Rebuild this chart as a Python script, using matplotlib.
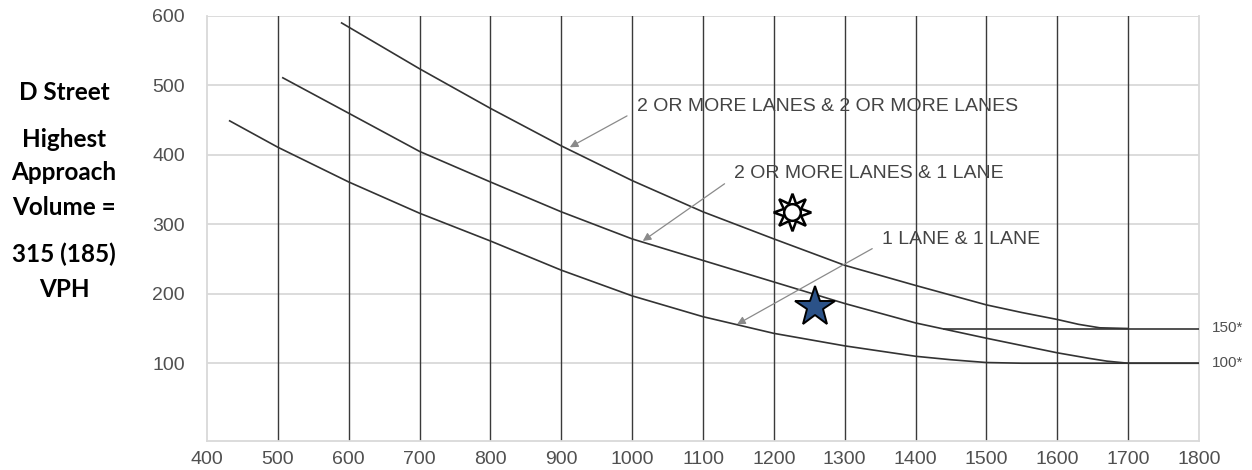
import matplotlib
matplotlib.use("Agg")
import matplotlib.pyplot as plt

# curves (major street volume vs minor approach volume)
x_two_two = [590, 700, 800, 900, 1000, 1100, 1200, 1300, 1400, 1500, 1550, 1600, 1630, 1660, 1700]
y_two_two = [590, 524, 467, 413, 363, 318, 279, 241, 212, 184, 173, 163, 156, 151, 150]
x_two_one = [507, 600, 700, 800, 900, 1000, 1100, 1200, 1300, 1400, 1500, 1600, 1645, 1670, 1700, 1800]
y_two_one = [511, 460, 405, 361, 318, 279, 248, 217, 186, 158, 136, 115, 107, 103, 100, 100]
x_one_one = [432, 500, 600, 700, 800, 900, 1000, 1100, 1200, 1300, 1400, 1450, 1500, 1550, 1800]
y_one_one = [449, 411, 361, 316, 276, 234, 197, 167, 143, 125, 110, 105, 101, 100, 100]
x_floor_150 = [1440, 1800]
y_floor_150 = [150, 150]

curve_labels = ["2 OR MORE LANES & 2 OR MORE LANES", "2 OR MORE LANES & 1 LANE", "1 LANE & 1 LANE"]
label_pos = [(1007, 469), (1144, 373), (1353, 278)]
arrow_tips = [(912, 411), (1015, 276), (1148, 156)]

sun_x, sun_y = 1225, 318
star_x, star_y = 1258, 181

x_ticks = list(range(400, 1900, 100))
y_ticks = [100, 200, 300, 400, 500, 600]
side_lines = ["D Street", "Highest", "Approach", "Volume =", "315 (185)", "VPH"]

fig = plt.figure(figsize=(12.52, 4.70), dpi=100)
ax = fig.add_axes([207 / 1252, 29 / 470, 992 / 1252, 425 / 470])
ax.set_xlim(400, 1800)
ax.set_ylim(-12, 600)

for y in y_ticks:
    ax.axhline(y, color="#d9d9d9", lw=1.3, zorder=1)
for x in x_ticks[1:-1]:
    ax.axvline(x, color="#3a3a3a", lw=1.0, zorder=2)

for s in ["left", "bottom", "right"]:
    ax.spines[s].set_color("#d9d9d9")
    ax.spines[s].set_linewidth(1.3)
ax.spines["top"].set_visible(False)

ax.set_xticks(x_ticks)
ax.set_yticks(y_ticks)
ax.tick_params(length=0, labelsize=14, labelcolor="#505050")
ax.tick_params(axis="x", pad=7)
ax.tick_params(axis="y", pad=16)
for lab in ax.get_xticklabels() + ax.get_yticklabels():
    lab.set_family("Liberation Sans")

line_kw = dict(color="#333333", lw=1.2, zorder=3)
ax.plot(x_two_two, y_two_two, **line_kw)
ax.plot(x_two_one, y_two_one, **line_kw)
ax.plot(x_one_one, y_one_one, **line_kw)
ax.plot(x_floor_150, y_floor_150, **line_kw)

for text, (tx, ty), (ax_, ay) in zip(curve_labels, label_pos, arrow_tips):
    ax.annotate(text, xy=(ax_, ay), xytext=(tx, ty), ha="left", va="center",
                fontsize=14, family="Liberation Sans", color="#444444",
                arrowprops=dict(arrowstyle="-|>", color="#8a8a8a", lw=0.9,
                                mutation_scale=12, shrinkA=6, shrinkB=0,
                                relpos=(0, 0.3)),
                zorder=4)

ax.text(1818, 150, "150*", va="center", ha="left", fontsize=11,
        family="Liberation Sans", color="#505050", clip_on=False)
ax.text(1818, 100, "100*", va="center", ha="left", fontsize=11,
        family="Liberation Sans", color="#505050", clip_on=False)

# sun and star markers
ax.plot(sun_x, sun_y, marker=(8, 1, 0), ms=27, mfc="white", mec="black", mew=1.8, zorder=6)
ax.plot(sun_x, sun_y, marker="o", ms=12, mfc="white", mec="black", mew=1.8, zorder=7)
ax.plot(star_x, star_y, marker="*", ms=30, mfc="#2b5288", mec="black", mew=1.4, zorder=6)

baselines = [100, 147, 180, 215, 262, 297]
for txt, b in zip(side_lines, baselines):
    fig.text(64 / 1252, 1 - b / 470, txt, ha="center", va="baseline",
             fontsize=17.5, fontweight="bold", family="Lato", color="black")

fig.savefig("out.png", dpi=100)
